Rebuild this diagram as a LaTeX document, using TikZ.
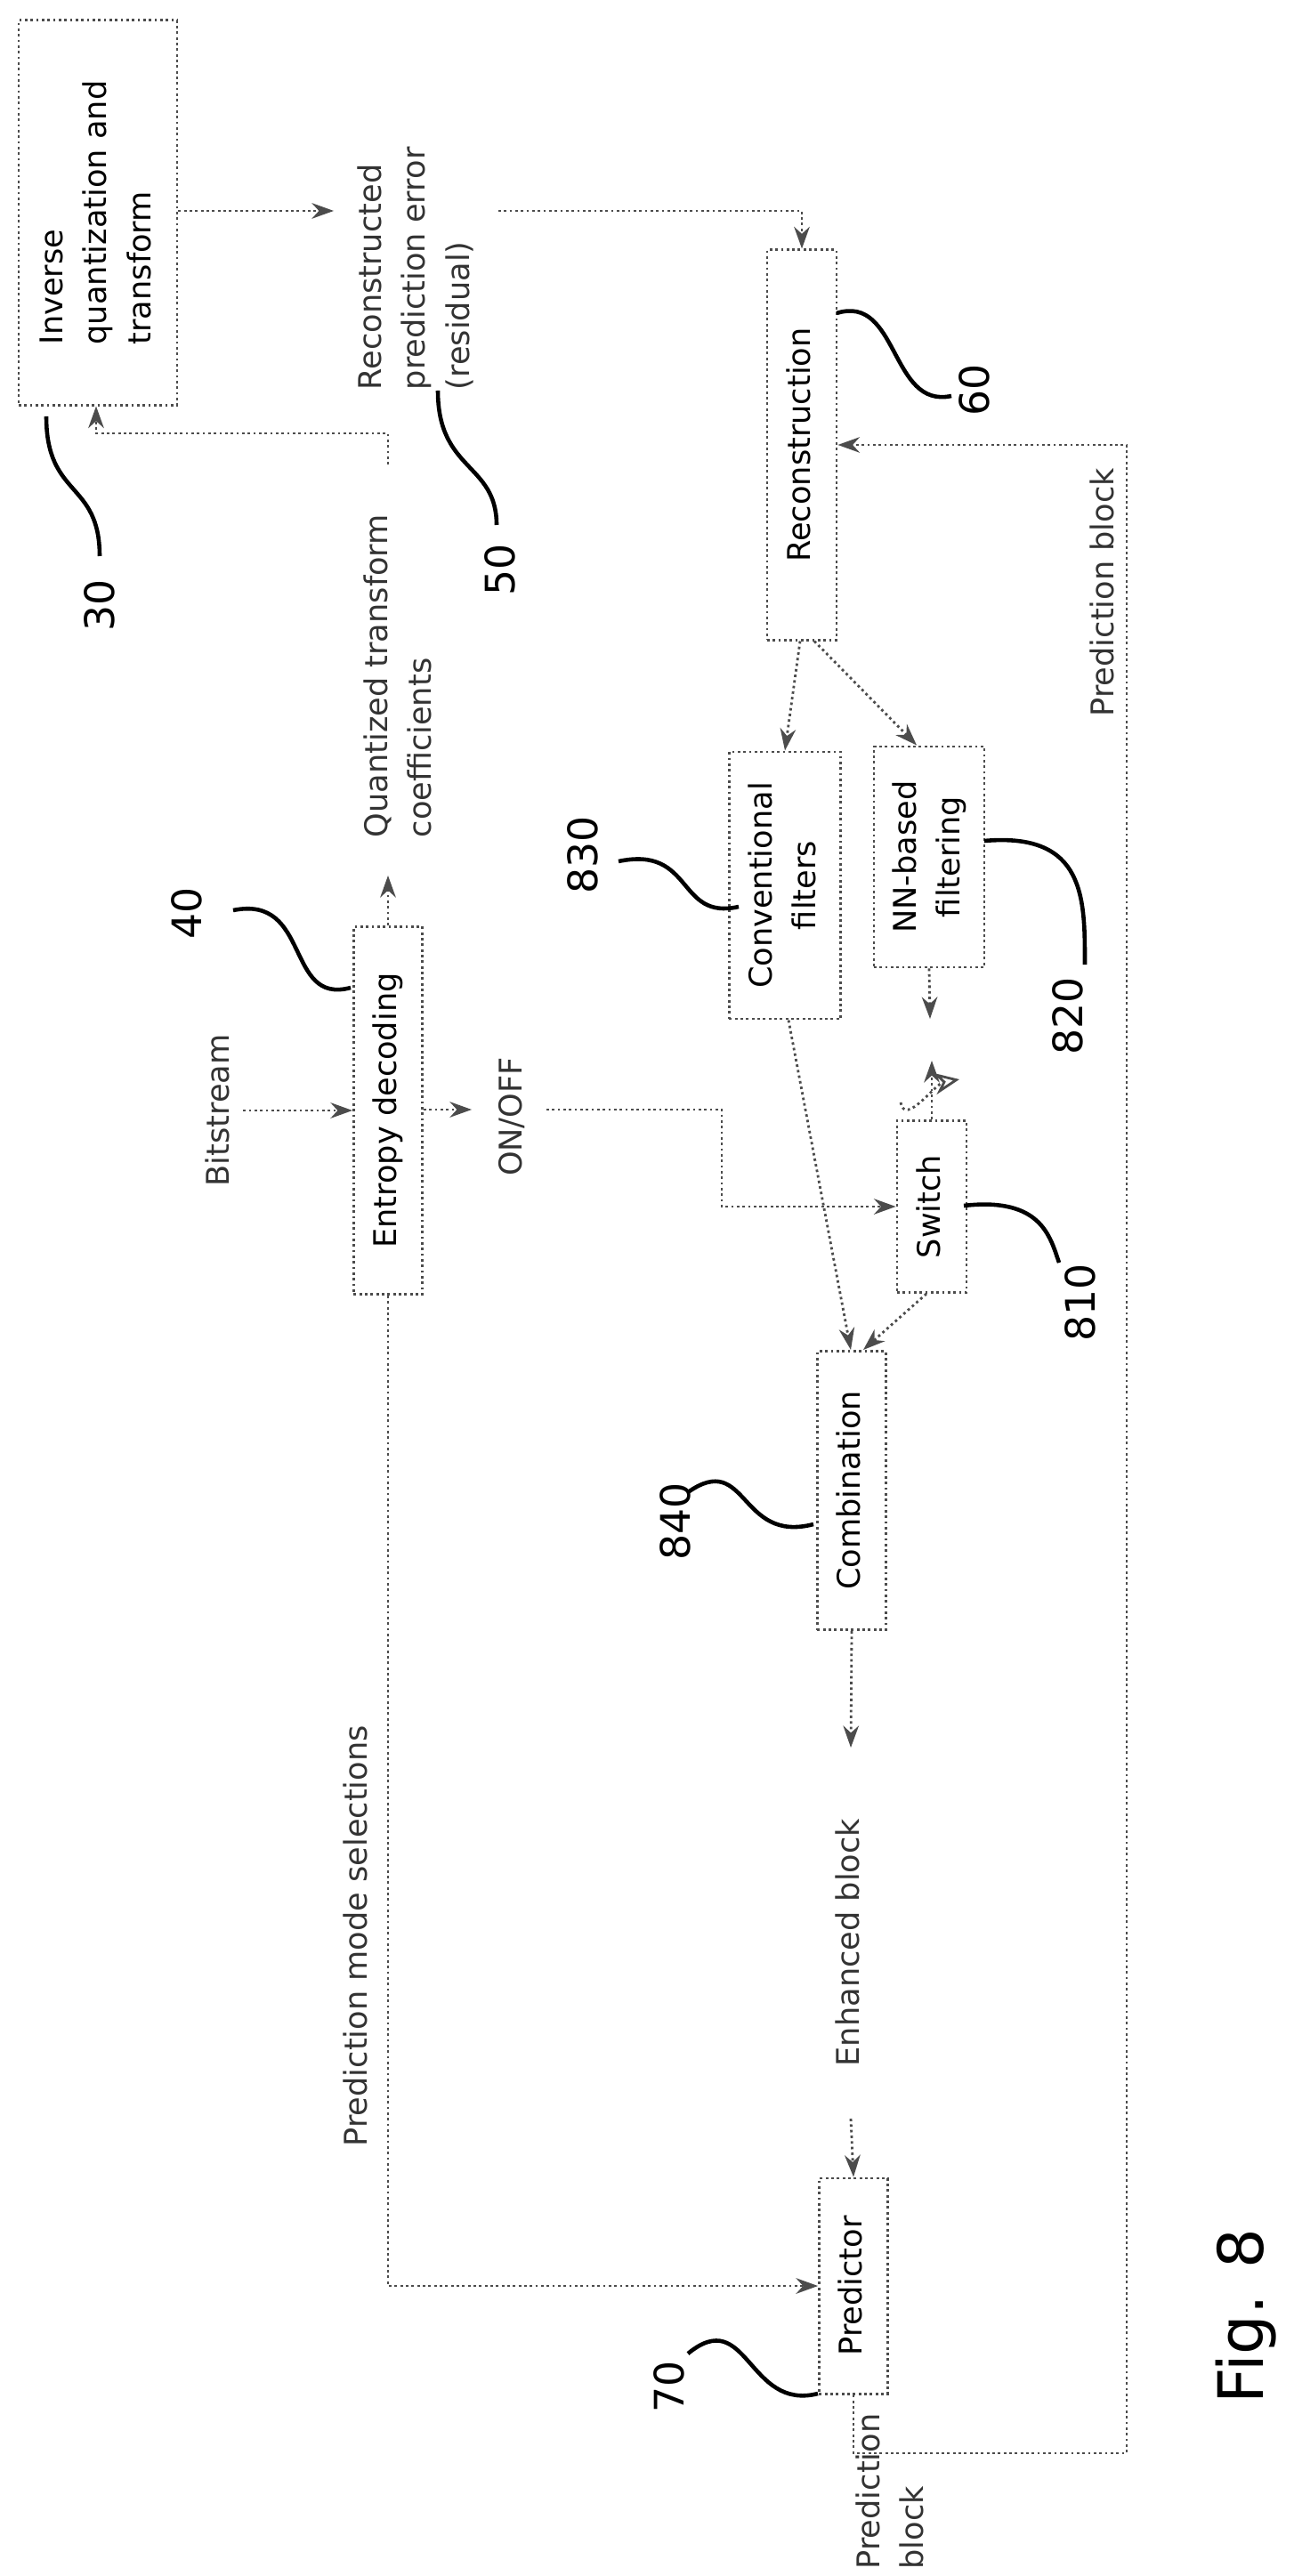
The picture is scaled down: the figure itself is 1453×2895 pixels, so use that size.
\documentclass[tikz,border=0pt]{standalone}
\usepackage{fontspec}
\setmainfont{DejaVu Sans}
\usetikzlibrary{arrows.meta}
\newcommand{\rt}[1]{\rotatebox{90}{\begin{tabular}{@{}l@{}}#1\end{tabular}}}
\newcommand{\rc}[1]{\rotatebox{90}{\begin{tabular}{@{}c@{}}#1\end{tabular}}}
\begin{document}
\begin{tikzpicture}[
  x=0.01cm, y=-0.01cm,
  box/.style={draw=black!70, densely dotted, thick, inner sep=0pt, font=\fontsize{10}{14}\selectfont},
  lbl/.style={inner sep=0pt, font=\fontsize{10}{14}\selectfont, text=black!80},
  num/.style={inner sep=0pt, font=\fontsize{13}{15}\selectfont},
  arr/.style={densely dotted, thick, black!70, -{Stealth[length=7pt,width=5pt]}},
  line/.style={densely dotted, thick, black!70},
  lead/.style={line width=1.3pt}
]
\useasboundingbox (0,0) rectangle (1453,2895);

% Blocks
\node[box, minimum width=1.78cm, minimum height=4.32cm] (inv) at (110,239) {\rt{Inverse\\quantization and\\transform}};
\node[box, minimum width=0.78cm, minimum height=4.38cm] (rec) at (901,500) {\rt{Reconstruction}};
\node[box, minimum width=1.25cm, minimum height=3.00cm] (conv) at (882,995) {\rc{Conventional\\filters}};
\node[box, minimum width=1.24cm, minimum height=2.48cm] (nn) at (1044,963) {\rc{NN-based\\filtering}};
\node[box, minimum width=0.77cm, minimum height=4.13cm] (ent) at (436,1248) {\rt{Entropy decoding}};
\node[box, minimum width=0.78cm, minimum height=1.93cm] (sw) at (1047,1356) {\rt{Switch}};
\node[box, minimum width=0.77cm, minimum height=3.13cm] (comb) at (957,1675) {\rt{Combination}};
\node[box, minimum width=0.77cm, minimum height=2.42cm] (pred) at (959,2569) {\rt{Predictor}};

% Signal labels
\node[lbl, anchor=south] (resid) at (468,439) {\rt{Reconstructed\\prediction error\\(residual)}};
\node[lbl, anchor=south] (quant) at (450,942) {\rt{Quantized transform\\coefficients}};
\node[lbl, anchor=south] (pblk) at (1242,806) {\rt{Prediction block}};
\node[lbl] (bits) at (248,1248) {\rt{Bitstream}};
\node[lbl] (onoff) at (577,1255) {\rt{ON/OFF}};
\node[lbl, anchor=south] (enh) at (956,2323) {\rt{Enhanced block}};
\node[lbl, anchor=south] (pms) at (403,2413) {\rt{Prediction mode selections}};
\node[lbl, anchor=south] (pblk2) at (1003,2888) {\rt{Prediction\\block}};
\node[inner sep=0pt, font=\fontsize{20}{24}\selectfont] (fig) at (1400,2603) {\rotatebox{90}{Fig. 8}};

% Free ends
\coordinate (ra) at (375,237);
\coordinate (rb) at (560,237);
\coordinate (qa) at (436,522);
\coordinate (qb) at (108,487);
\coordinate (qt) at (436,984);
\coordinate (oa) at (530,1247);
\coordinate (ob) at (614,1247);
\coordinate (nb) at (1045,1145);
\coordinate (st) at (1047,1192);
\coordinate (ea) at (956,1964);
\coordinate (eb) at (956,2381);
\coordinate (pbc) at (1266,2757);

% Connectors
\draw[arr] (inv.east |- ra) -- (ra);
\draw[arr] (rb) -| (rec.north);
\draw[arr] (qa) |- (qb) -- (qb |- inv.south);
\draw[arr] (ent.north) -- (qt);
\draw[arr] (bits) -- (ent.west |- bits);
\draw[arr] (ent.east |- oa) -- (oa);
\draw[arr] (ob) -- (811,1247) |- (sw.west);
\draw[arr] ([xshift=-0.02cm]rec.south) -- (conv.north);
\draw[arr] ([xshift=0.14cm]rec.south) -- ([xshift=-0.14cm]nn.north);
\draw[arr] (nn.south) -- (nb);
\draw[arr] (sw.north) -- (st);
\draw[densely dotted, thick, black!70, -{Stealth[open,length=8pt,width=7pt]}] (1012,1239) to[out=-80, in=-170] (1078,1213);
\draw[arr] ([xshift=0.04cm]conv.south) -- ([xshift=-0.01cm]comb.north);
\draw[arr] ([xshift=-0.06cm]sw.south) -- ([xshift=0.13cm]comb.north);
\draw[arr] (comb.south) -- (ea);
\draw[arr] (eb) -- (pred.north);
\draw[arr] (ent.south) |- (pred.west);
\draw[arr] (pred.south) |- (pbc) |- (rec.east);

% Reference numerals
\draw[lead] (52,468) .. controls (52,560) and (112,540) .. (112,625);
\node[num] (n30) at (112,680) {\rotatebox{90}{30}};
\draw[lead] (492,439) .. controls (492,530) and (558,520) .. (558,590);
\node[num] (n50) at (562,640) {\rotatebox{90}{50}};
\draw[lead] (940,352) .. controls (1010,330) and (1000,460) .. (1069,445);
\node[num] (n60) at (1095,438) {\rotatebox{90}{60}};
\draw[lead] (830,1019) .. controls (760,1035) and (780,950) .. (695,968);
\node[num] (n830) at (655,961) {\rotatebox{90}{830}};
\draw[lead] (1106,945) .. controls (1220,935) and (1219,1010) .. (1219,1084);
\node[num] (n820) at (1200,1142) {\rotatebox{90}{820}};
\draw[lead] (394,1110) .. controls (320,1130) and (350,1005) .. (262,1023);
\node[num] (n40) at (210,1026) {\rotatebox{90}{40}};
\draw[lead] (1083,1355) .. controls (1170,1345) and (1180,1390) .. (1190,1419);
\node[num] (n810) at (1214,1464) {\rotatebox{90}{810}};
\draw[lead] (914,1713) .. controls (830,1735) and (840,1630) .. (773,1677);
\node[num] (n840) at (759,1710) {\rotatebox{90}{840}};
\draw[lead] (919,2690) .. controls (840,2710) and (840,2590) .. (773,2645);
\node[num] (n70) at (752,2682) {\rotatebox{90}{70}};
\end{tikzpicture}
\end{document}
